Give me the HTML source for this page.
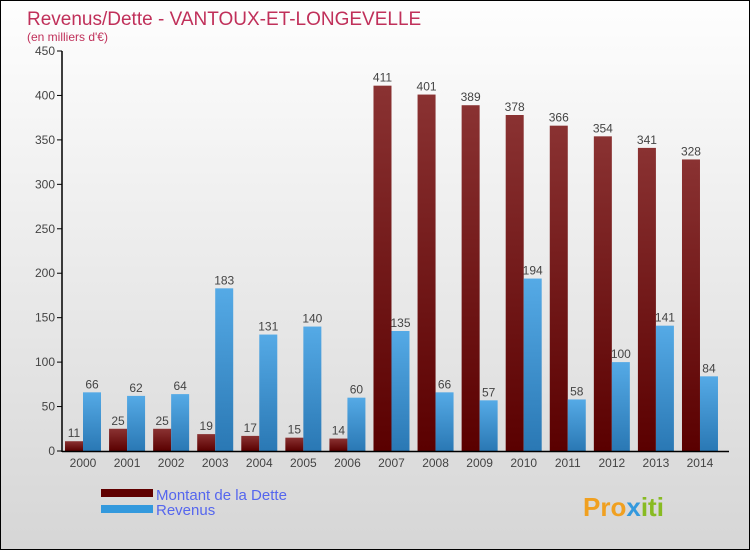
<!DOCTYPE html>
<html><head><meta charset="utf-8"><style>
body{margin:0}
#c{position:relative;width:748px;height:548px;border:1px solid #000;background:linear-gradient(#fefefe,#d6d6d6);font-family:"Liberation Sans",sans-serif;overflow:hidden}
</style></head><body>
<div id="c">
<svg id="s" width="748" height="548" style="position:absolute;left:0;top:0">
<text x="26" y="24" font-size="19" fill="#c0305a">Revenus/Dette - VANTOUX-ET-LONGEVELLE</text>
<text x="26" y="40" font-size="12" fill="#c0305a">(en milliers d'€)</text>
<defs>
<linearGradient id="gd" x1="0" y1="0" x2="0" y2="1"><stop offset="0" stop-color="#8a3232"/><stop offset="1" stop-color="#5a0000"/></linearGradient>
<linearGradient id="gr" x1="0" y1="0" x2="0" y2="1"><stop offset="0" stop-color="#55aae6"/><stop offset="1" stop-color="#2a78b4"/></linearGradient>
</defs>
<g id="plot"></g>
<rect x="100" y="488" width="52" height="8" fill="#600000"/>
<rect x="100" y="504" width="52" height="8" fill="#3399dd"/>
<text x="155" y="499" font-size="15" fill="#5566ee">Montant de la Dette</text>
<text x="155" y="514" font-size="15" fill="#5566ee">Revenus</text>
<text x="582" y="515" font-size="26" font-weight="bold" fill="#f0a020">Pro<tspan fill="#3399dd">x</tspan><tspan fill="#88bb22">iti</tspan></text>
</svg>
</div>
<script>
const years=["2000","2001","2002","2003","2004","2005","2006","2007","2008","2009","2010","2011","2012","2013","2014"];
const dette=[11,25,25,19,17,15,14,411,401,389,378,366,354,341,328];
const revenus=[66,62,64,183,131,140,60,135,66,57,194,58,100,141,84];
const ticks=[0,50,100,150,200,250,300,350,400,450];
const NS="http://www.w3.org/2000/svg";
const g=document.getElementById('plot');
function y(v){return 450-v*400/450;}
function x(i){return 82+i*44.07;}
function el(t,a,txt){const e=document.createElementNS(NS,t);for(const k in a)e.setAttribute(k,a[k]);if(txt!=null)e.textContent=txt;g.appendChild(e);return e;}
ticks.forEach(t=>{
 const l=el('line',{x1:56,x2:61,y1:y(t),y2:y(t),stroke:'#000'});
 
 
 const tx=el('text',{x:54,y:y(t)+4,'font-size':12,fill:'#444','text-anchor':'end'},t);
 
 
});
years.forEach((yr,i)=>{
 const cx=x(i);
 const b1=el('rect',{x:cx-18,y:y(dette[i]),width:18,height:450-y(dette[i]),fill:'url(#gd)'});
 
 
 const b2=el('rect',{x:cx,y:y(revenus[i]),width:18,height:450-y(revenus[i]),fill:'url(#gr)'});
 
 
 const t1=el('text',{x:cx-9,y:y(dette[i])-4,'font-size':12,fill:'#444','text-anchor':'middle'},dette[i]);
 
 
 const t2=el('text',{x:cx+9,y:y(revenus[i])-4,'font-size':12,fill:'#444','text-anchor':'middle'},revenus[i]);
 
 
 const xl=el('text',{x:cx,y:466,'font-size':12,fill:'#444','text-anchor':'middle'},yr);
 
 
});
const ya=el('line',{x1:61,x2:61,y1:50,y2:451,stroke:'#000','stroke-width':1.5});


const xa=el('line',{x1:61,x2:728,y1:450.5,y2:450.5,stroke:'#000','stroke-width':1.5});


</script>
</body></html>
